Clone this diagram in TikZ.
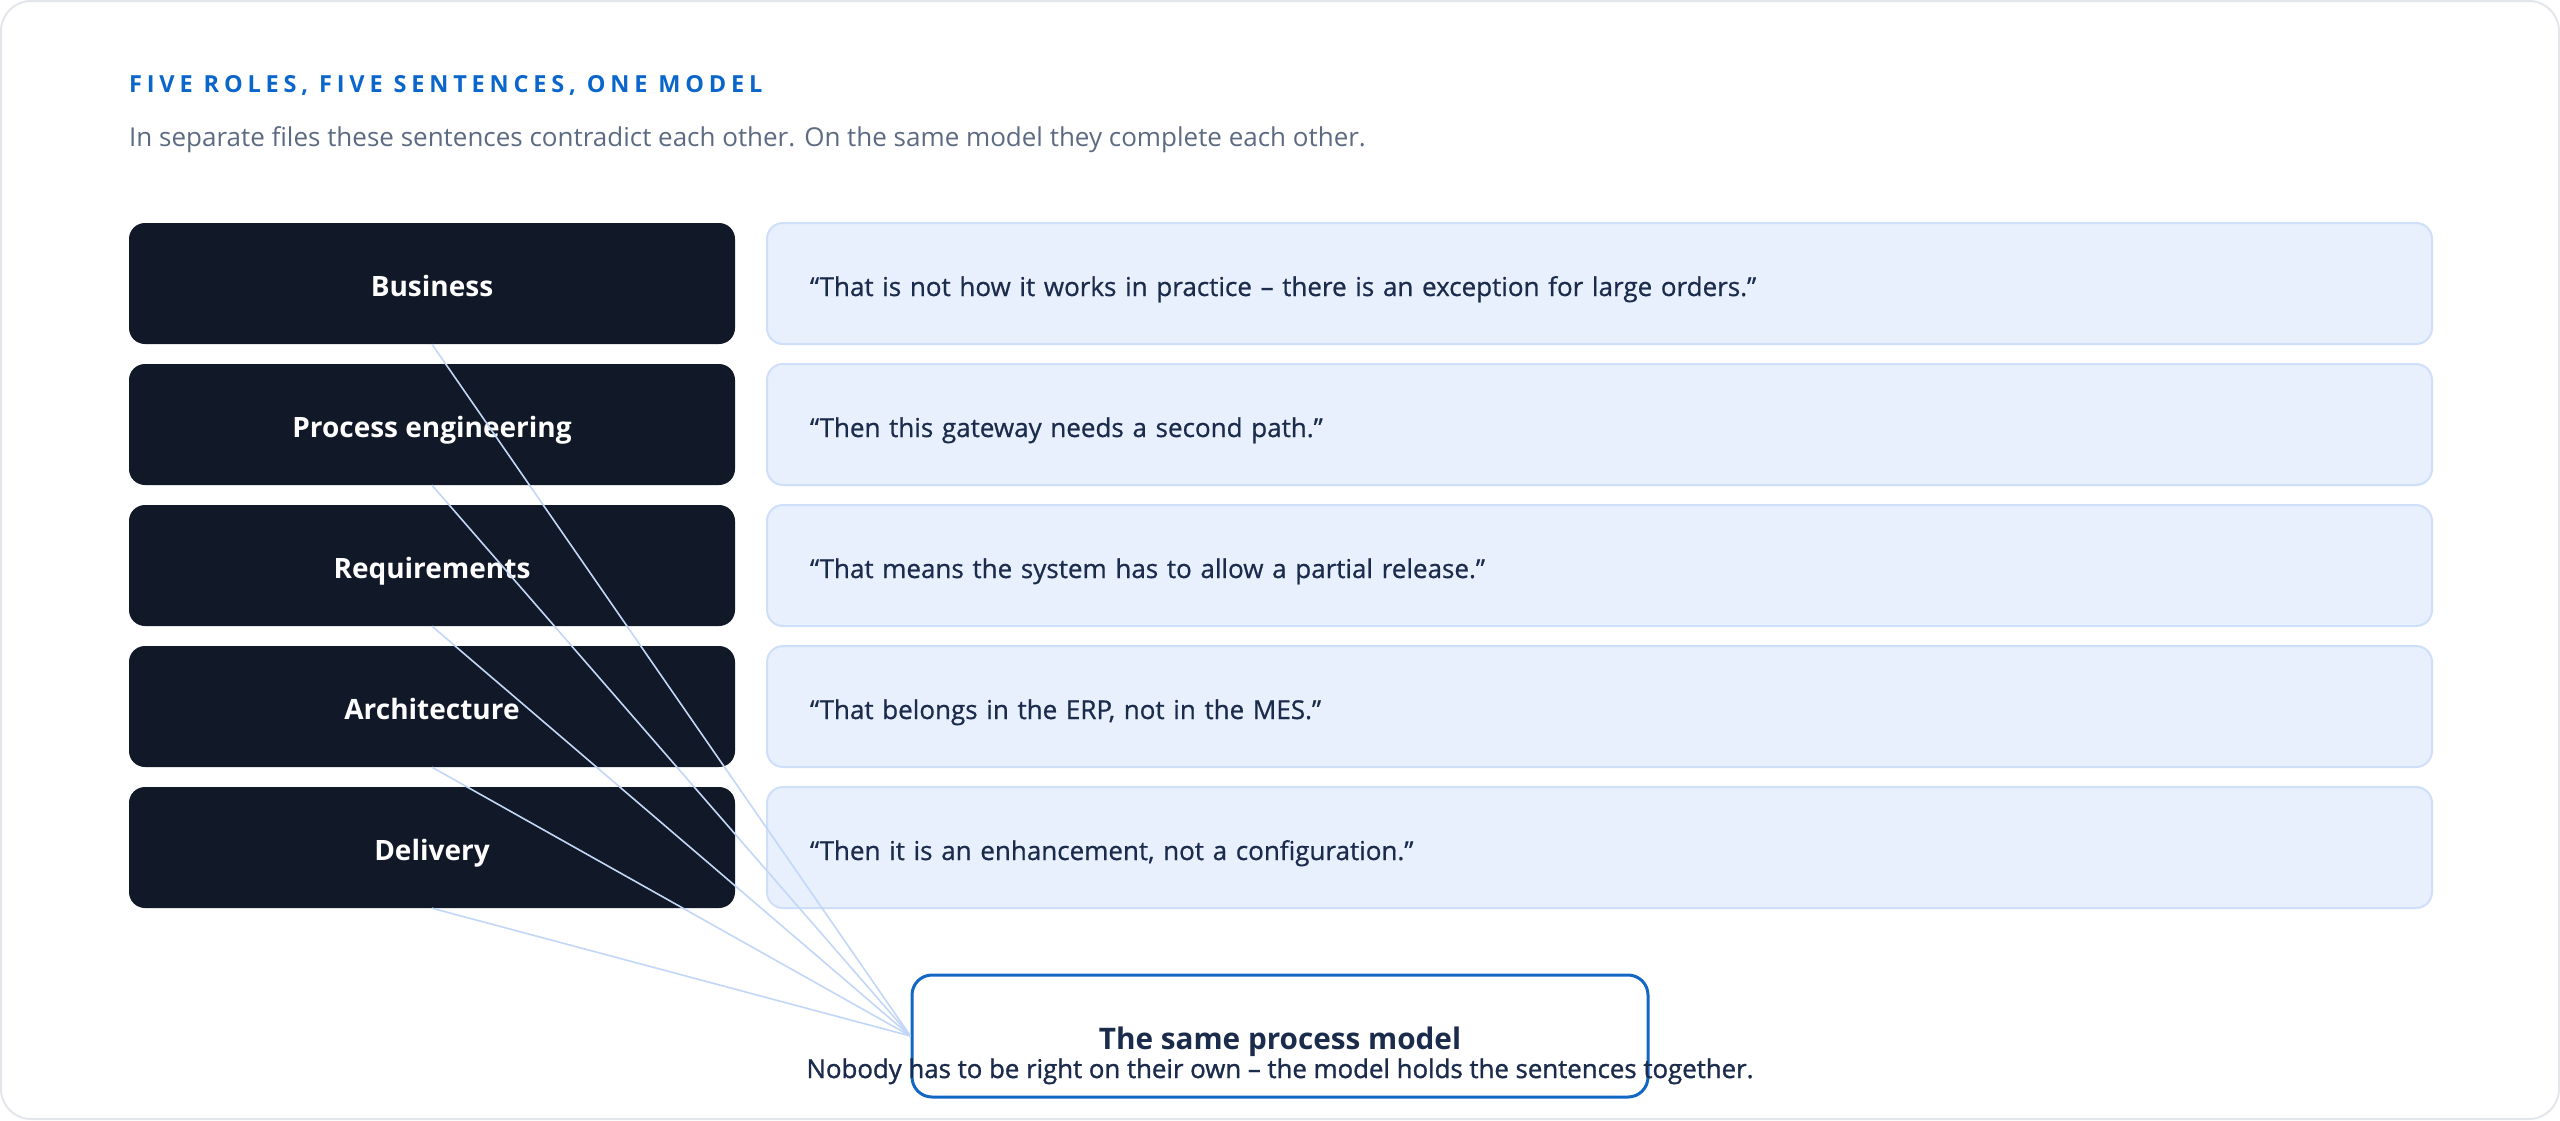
\documentclass[tikz,border=0pt]{standalone}
\usepackage{fontspec}
\setmainfont{Open Sans}
\newfontfamily\titlefont[LetterSpace=20.5]{Open Sans}
\newfontfamily\medfont[FakeBold=0.7]{Open Sans}
\newfontfamily\semifont[FakeBold=1.2]{Open Sans}
\usetikzlibrary{positioning}
\definecolor{cardline}{HTML}{E3E6EB}
\definecolor{rolefill}{HTML}{111827}
\definecolor{qfill}{HTML}{E8F0FE}
\definecolor{qline}{HTML}{CFDFFA}
\definecolor{qtext}{HTML}{1B2B4B}
\definecolor{titleblue}{HTML}{0A66CB}
\definecolor{subgray}{HTML}{5C6B82}
\definecolor{linkc}{HTML}{C2D7F8}
\definecolor{modelblue}{HTML}{1266C4}
\tikzset{
  rolebox/.style={fill=rolefill, rounded corners=16pt, minimum width=606pt, minimum height=121pt, inner sep=0pt, text height=27pt, text depth=2pt, text=white, font=\fontsize{28}{30}\selectfont\bfseries},
  quotebox/.style={fill=qfill, draw=qline, line width=2pt, rounded corners=16pt, minimum height=121pt, text width=1579pt, inner xsep=43pt, inner ysep=0pt, text height=27pt, text depth=2pt, align=left, text=qtext, font=\medfont\fontsize{26}{30}\selectfont},
  modelbox/.style={fill=white, draw=modelblue, line width=3pt, rounded corners=20pt, minimum width=736pt, minimum height=122pt, inner sep=0pt},
  link/.style={draw=linkc, line width=1.6pt},
  headtxt/.style={inner sep=0pt, anchor=base west}
}
\begin{document}
\begin{tikzpicture}[x=1pt,y=-1pt]
\useasboundingbox (0,0) rectangle (2560,1120);
\draw[draw=cardline, line width=2pt, fill=white, rounded corners=30pt] (1,1) rectangle (2559,1119);
\node[headtxt, text=titleblue, font=\titlefont\fontsize{23.5}{26}\selectfont\bfseries] (title) at (129,92) {FIVE ROLES, FIVE SENTENCES, ONE MODEL};
\node[headtxt, text=subgray, font=\fontsize{26}{30}\selectfont] (sub) at (129,146) {In separate files these sentences contradict each other. On the same model they complete each other.};
% roles
\node[rolebox] (r1) at (432,283.5) {Business};
\node[rolebox] (r2) at (432,424.5) {Process engineering};
\node[rolebox] (r3) at (432,565.5) {Requirements};
\node[rolebox] (r4) at (432,706.5) {Architecture};
\node[rolebox] (r5) at (432,847.5) {Delivery};
% quotes
\node[quotebox] (q1) at (1599.5,283.5) {“That is not how it works in practice – there is an exception for large orders.”};
\node[quotebox] (q2) at (1599.5,424.5) {“Then this gateway needs a second path.”};
\node[quotebox] (q3) at (1599.5,565.5) {“That means the system has to allow a partial release.”};
\node[quotebox] (q4) at (1599.5,706.5) {“That belongs in the ERP, not in the MES.”};
\node[quotebox] (q5) at (1599.5,847.5) {“Then it is an enhancement, not a configuration.”};
% model
\node[modelbox] (m) at (1280,1036) {};
\node[inner sep=0pt, anchor=base, text=qtext, font=\fontsize{29.7}{34}\selectfont\bfseries] (mt) at (1280,1049) {The same process model};
\node[inner sep=0pt, anchor=base, text=qtext, font=\semifont\fontsize{25.8}{28}\selectfont] (ms) at (1280,1078) {Nobody has to be right on their own – the model holds the sentences together.};
% links
\foreach \r in {r1,r2,r3,r4,r5} \draw[link] (\r.south) -- (m.west);
\end{tikzpicture}
\end{document}
